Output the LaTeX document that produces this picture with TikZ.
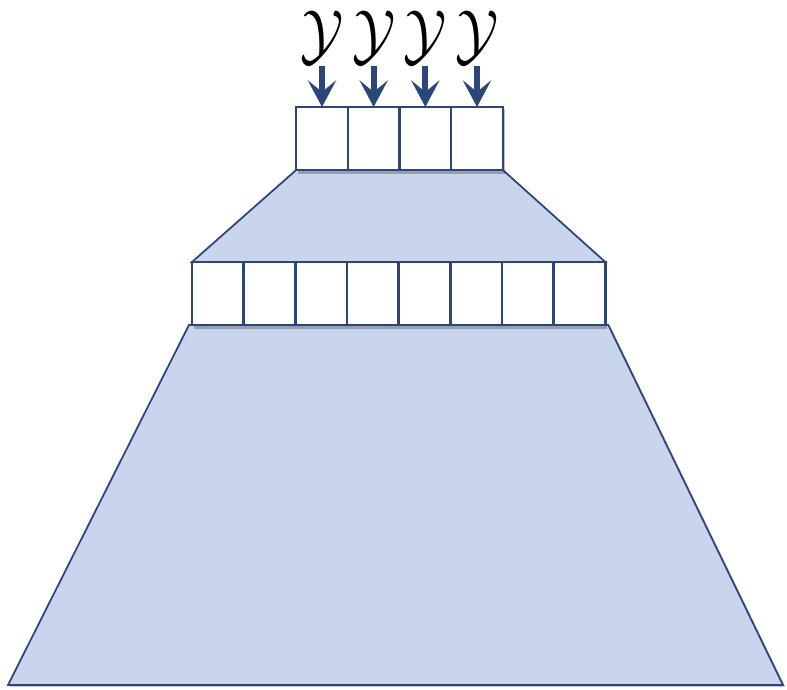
\documentclass[tikz,border=0pt]{standalone}
\usepackage{amsmath}
\usetikzlibrary{arrows.meta,positioning,calc,shadows,backgrounds}
\definecolor{ink}{HTML}{2C4677}
\definecolor{sky}{HTML}{C9D5EC}
\tikzset{
  cell/.style={rectangle, draw=ink, fill=white, line width=2.2pt, minimum width=15.5mm,
               minimum height=18.9mm, outer sep=0pt, inner sep=0pt},
  slab/.style={draw=ink, fill=sky, line width=1.5pt, line join=miter,
               drop shadow={shadow xshift=2pt, shadow yshift=-1.5pt, opacity=0.4}},
  rowshade/.style={fill=black, opacity=0.25},
  feed/.style={-{Stealth[length=8mm, width=8.5mm, inset=3.5mm]}, draw=ink, line width=5pt},
  sym/.style={xscale=4.9, yscale=5.8, inner sep=0pt}
}

\begin{document}
\begin{tikzpicture}[x=0.3mm, y=-0.3mm]
 \useasboundingbox (0,0) rectangle (787,690);
 % top row of four
 \node[cell] (t1) at (322,138.5) {};
 \node[cell, right=0pt of t1] (t2) {};
 \node[cell, right=0pt of t2] (t3) {};
 \node[cell, right=0pt of t3] (t4) {};
 % middle row of eight
 \node[cell] (m1) at (217.8,293.5) {};
 \node[cell, right=0pt of m1] (m2) {};
 \node[cell, right=0pt of m2] (m3) {};
 \node[cell, right=0pt of m3] (m4) {};
 \node[cell, right=0pt of m4] (m5) {};
 \node[cell, right=0pt of m5] (m6) {};
 \node[cell, right=0pt of m6] (m7) {};
 \node[cell, right=0pt of m7] (m8) {};
 \coordinate (bl) at (8,685);
 \coordinate (br) at (783,685);
 % slabs and shades behind the rows
 \begin{scope}[on background layer]
  \path[slab] (t1.south west) -- (t4.south east) -- (m8.north east) -- (m1.north west) -- cycle;
  \path[slab] ($(m1.south west)+(-3,0)$) -- ($(m8.south east)+(3,0)$) -- (br) -- (bl) -- cycle;
  \path[rowshade] ($(t1.north west)+(2,2)$) rectangle ($(t4.south east)+(2,4)$);
  \path[rowshade] ($(m1.north west)+(2,2)$) rectangle ($(m8.south east)+(2,4)$);
 \end{scope}
 % inputs
 \node[sym] (y1) at (322,38) {$\mathcal{Y}$};
 \node[sym] (y2) at (t2 |- y1) {$\mathcal{Y}$};
 \node[sym] (y3) at (t3 |- y1) {$\mathcal{Y}$};
 \node[sym] (y4) at (t4 |- y1) {$\mathcal{Y}$};
 \draw[feed] (y1.south) -- (t1.north);
 \draw[feed] (y2.south) -- (t2.north);
 \draw[feed] (y3.south) -- (t3.north);
 \draw[feed] (y4.south) -- (t4.north);
\end{tikzpicture}
\end{document}
